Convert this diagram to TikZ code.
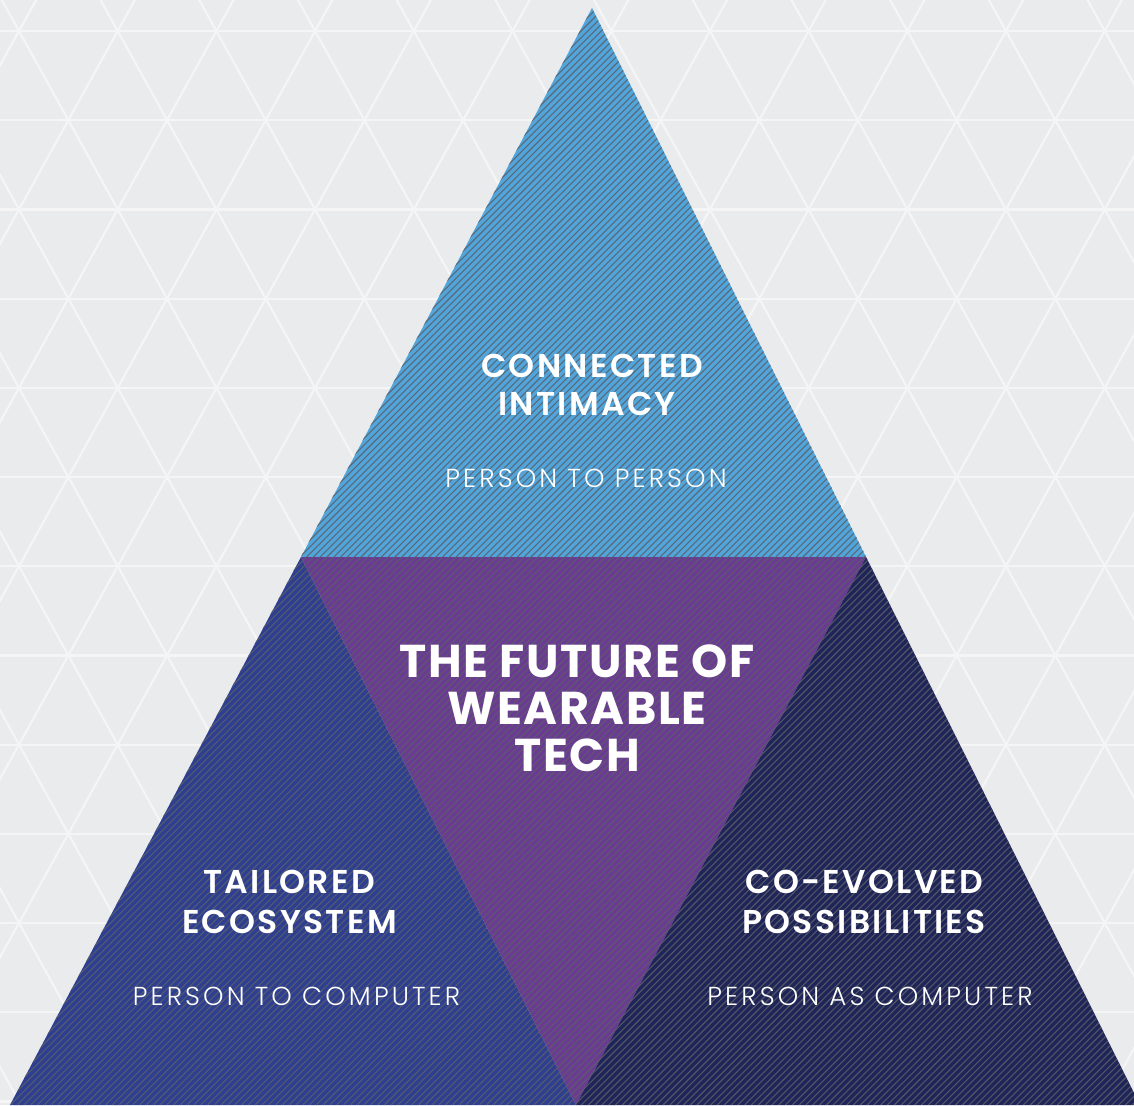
\documentclass[tikz,border=0pt]{standalone}
\usepackage{fontspec}
\setmainfont{Poppins}
\newfontfamily\titlefont[LetterSpace=7]{Poppins SemiBold}
\newfontfamily\bigfont[LetterSpace=3.5]{Poppins Bold}
\newfontfamily\subfont[LetterSpace=12]{Poppins Light}
\definecolor{bgc}{HTML}{EAEBED}
\definecolor{gridc}{HTML}{F5F5F6}
\definecolor{topblue}{HTML}{52A5DB}
\definecolor{leftblue}{HTML}{2E3F91}
\definecolor{midpurple}{HTML}{6B3A93}
\definecolor{rightnavy}{HTML}{1F2558}
\definecolor{stripec}{HTML}{5A5E68}
\begin{document}
\begin{tikzpicture}[x=1pt,y=-1pt,
  gridline/.style={draw=gridc, line width=2.2pt},
  stripeline/.style={draw=stripec, line width=1.1pt, opacity=0.85},
  title/.style={text=white, font=\titlefont\fontsize{33}{33}\selectfont, anchor=base, inner sep=0pt},
  subtitle/.style={text=white, font=\subfont\fontsize{26}{26}\selectfont, anchor=base, inner sep=0pt},
  bigtitle/.style={text=white, font=\bigfont\fontsize{46}{46}\selectfont, anchor=base, inner sep=0pt}]
\useasboundingbox (0,0) rectangle (1134,1105);
\clip (0,0) rectangle (1134,1105);
\fill[bgc] (0,0) rectangle (1134,1105);
% background triangular grid
\foreach \k in {0,...,12} \draw[gridline] (-10,{31+89.2*\k}) -- (1150,{31+89.2*\k});
\foreach \j in {-9,...,12} \draw[gridline] ({19+98.7*\j-50.35},-60) -- ({19+98.7*\j+646.8},1200);
\foreach \j in {-1,...,20} \draw[gridline] ({19+98.7*\j+50.35},-60) -- ({19+98.7*\j-646.8},1200);
% main triangle
\coordinate (A) at (592,8);
\coordinate (L) at (10,1105);
\coordinate (R) at (1140,1105);
\coordinate (ML) at (301,557);
\coordinate (MR) at (866,557);
\coordinate (MB) at (576,1105);
\fill[topblue] (A) -- (ML) -- (MR) -- cycle;
\fill[leftblue] (ML) -- (L) -- (MB) -- cycle;
\fill[midpurple] (ML) -- (MR) -- (MB) -- cycle;
\fill[rightnavy] (MR) -- (MB) -- (R) -- cycle;
\begin{scope}
\clip (A) -- (L) -- (R) -- cycle;
\foreach \i in {0,...,332} \draw[stripeline] ({-1105+6.8*\i},1105) -- ({6.8*\i},0);
\end{scope}
% texts
\node[title] (ci1) at (592,377) {CONNECTED};
\node[title] (ci2) at (587,415) {INTIMACY};
\node[subtitle] (ci3) at (586,487) {PERSON TO PERSON};
\node[bigtitle] (fw1) at (577,677) {THE FUTURE OF};
\node[bigtitle] (fw2) at (577,724) {WEARABLE};
\node[bigtitle] (fw3) at (577,771) {TECH};
\node[title] (te1) at (289,893) {TAILORED};
\node[title] (te2) at (289.5,933) {ECOSYSTEM};
\node[subtitle] (te3) at (296.5,1005) {PERSON TO COMPUTER};
\node[title] (cp1) at (864.5,893) {CO-EVOLVED};
\node[title] (cp2) at (864,933) {POSSIBILITIES};
\node[subtitle] (cp3) at (870,1005) {PERSON AS COMPUTER};
\end{tikzpicture}
\end{document}
